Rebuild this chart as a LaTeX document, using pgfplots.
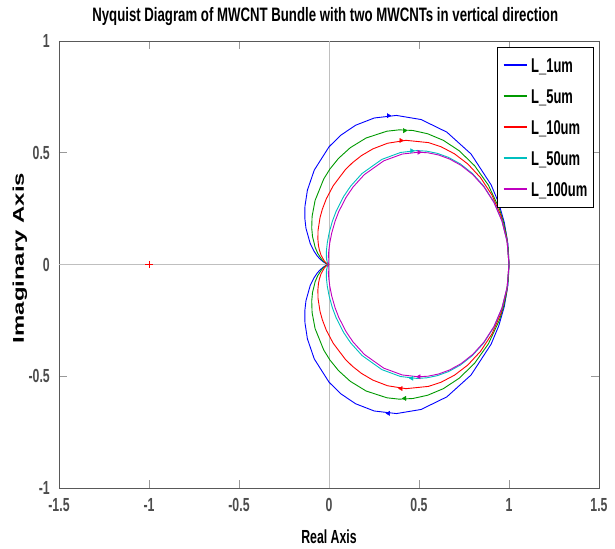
\documentclass[border=0pt]{standalone}
\usepackage{pgfplots}
\pgfplotsset{compat=1.18}
\usepackage{pgfplotstable}
\usepackage{graphicx}
\usepackage{fontspec}
\setmainfont{Liberation Sans}
\newcommand{\sq}[1]{\scalebox{0.65}[1]{#1}}
\definecolor{mblue}{rgb}{0,0,1}
\definecolor{mgreen}{rgb}{0,0.6,0}
\definecolor{mred}{rgb}{1,0,0}
\definecolor{mcyan}{rgb}{0,0.75,0.75}
\definecolor{mmag}{rgb}{0.75,0,0.75}

% columns: real part, imag (negative frequencies, upper), imag (positive frequencies, lower)
\pgfplotstableread{
x yp yn
1.0000 0.0000 -0.0000
0.9935 0.0946 -0.0946
0.9742 0.1870 -0.1870
0.9429 0.2749 -0.2749
0.9006 0.3565 -0.3565
0.7892 0.4944 -0.4944
0.6546 0.5923 -0.5923
0.5119 0.6485 -0.6485
0.3744 0.6670 -0.6670
0.2514 0.6555 -0.6555
0.1475 0.6230 -0.6230
0.0642 0.5777 -0.5777
0.0000 0.5263 -0.5263
-0.0816 0.4228 -0.4228
-0.1200 0.3326 -0.3326
-0.1336 0.2604 -0.2604
-0.1340 0.2046 -0.2046
-0.1280 0.1621 -0.1621
-0.1047 0.0948 -0.0948
-0.0829 0.0591 -0.0591
-0.0659 0.0389 -0.0389
-0.0530 0.0269 -0.0269
-0.0360 0.0143 -0.0143
-0.0258 0.0084 -0.0084
-0.0150 0.0036 -0.0036
-0.0097 0.0019 -0.0019
-0.0025 0.0002 -0.0002
0.0000 0.0000 -0.0000
}\tblue

\pgfplotstableread{
x yp yn
1.0000 0.0000 -0.0000
0.9965 0.0648 -0.0648
0.9862 0.1286 -0.1286
0.9694 0.1903 -0.1903
0.9466 0.2491 -0.2491
0.8855 0.3549 -0.3549
0.8090 0.4419 -0.4419
0.7237 0.5086 -0.5086
0.6353 0.5555 -0.5555
0.5483 0.5849 -0.5849
0.4659 0.5996 -0.5996
0.3898 0.6025 -0.6025
0.3211 0.5963 -0.5963
0.2061 0.5660 -0.5660
0.1183 0.5227 -0.5227
0.0530 0.4749 -0.4749
0.0051 0.4273 -0.4273
-0.0294 0.3824 -0.3824
-0.0772 0.2869 -0.2869
-0.0939 0.2155 -0.2155
-0.0960 0.1633 -0.1633
-0.0916 0.1254 -0.1254
-0.0769 0.0769 -0.0769
-0.0625 0.0497 -0.0497
-0.0414 0.0237 -0.0237
-0.0287 0.0129 -0.0129
-0.0138 0.0041 -0.0041
-0.0080 0.0018 -0.0018
-0.0021 0.0002 -0.0002
0.0000 0.0000 -0.0000
}\tgreen

\pgfplotstableread{
x yp yn
1.0000 0.0000 -0.0000
0.9886 0.1119 -0.1119
0.9559 0.2172 -0.2172
0.9053 0.3105 -0.3105
0.8419 0.3886 -0.3886
0.7707 0.4501 -0.4501
0.6966 0.4955 -0.4955
0.6232 0.5265 -0.5265
0.5530 0.5453 -0.5453
0.4278 0.5556 -0.5556
0.3252 0.5425 -0.5425
0.2437 0.5173 -0.5173
0.1796 0.4868 -0.4868
0.1294 0.4548 -0.4548
0.0899 0.4234 -0.4234
0.0234 0.3524 -0.3524
-0.0148 0.2942 -0.2942
-0.0370 0.2473 -0.2473
-0.0500 0.2093 -0.2093
-0.0608 0.1528 -0.1528
-0.0618 0.1139 -0.1139
-0.0587 0.0865 -0.0865
-0.0541 0.0668 -0.0668
-0.0442 0.0416 -0.0416
-0.0260 0.0156 -0.0156
-0.0164 0.0073 -0.0073
-0.0079 0.0023 -0.0023
-0.0030 0.0005 -0.0005
0.0000 0.0000 -0.0000
}\tred

\pgfplotstableread{
x yp yn
1.0000 0.0000 -0.0000
0.9899 0.1010 -0.1010
0.9608 0.1962 -0.1962
0.9158 0.2807 -0.2807
0.8593 0.3517 -0.3517
0.7959 0.4080 -0.4080
0.7299 0.4499 -0.4499
0.6644 0.4791 -0.4791
0.6018 0.4974 -0.4974
0.5434 0.5070 -0.5070
0.4898 0.5098 -0.5098
0.3978 0.5013 -0.5013
0.2936 0.4703 -0.4703
0.1837 0.4073 -0.4073
0.1204 0.3508 -0.3508
0.0817 0.3049 -0.3049
0.0397 0.2385 -0.2385
0.0190 0.1942 -0.1942
0.0004 0.1401 -0.1401
-0.0095 0.0971 -0.0971
-0.0142 0.0621 -0.0621
-0.0150 0.0439 -0.0439
-0.0139 0.0250 -0.0250
-0.0098 0.0102 -0.0102
-0.0040 0.0020 -0.0020
0.0000 0.0000 -0.0000
}\tcyan

\pgfplotstableread{
x yp yn
1.0000 0.0000 -0.0000
0.9900 0.0995 -0.0995
0.9613 0.1933 -0.1933
0.9170 0.2766 -0.2766
0.8614 0.3466 -0.3466
0.7990 0.4020 -0.4020
0.7340 0.4434 -0.4434
0.6695 0.4721 -0.4721
0.6078 0.4902 -0.4902
0.5503 0.4997 -0.4997
0.4975 0.5025 -0.5025
0.4069 0.4942 -0.4942
0.3042 0.4638 -0.4638
0.1960 0.4020 -0.4020
0.1336 0.3465 -0.3465
0.0955 0.3014 -0.3014
0.0541 0.2364 -0.2364
0.0336 0.1931 -0.1931
0.0151 0.1405 -0.1405
0.0049 0.0993 -0.0993
-0.0006 0.0663 -0.0663
-0.0025 0.0496 -0.0496
-0.0038 0.0327 -0.0327
-0.0043 0.0189 -0.0189
-0.0039 0.0080 -0.0080
-0.0025 0.0025 -0.0025
0.0000 0.0000 -0.0000
}\tmag

\begin{document}
\begin{tikzpicture}
\begin{axis}[
  scale only axis,
  width=540bp, height=447bp,
  xmin=-1.5, xmax=1.5, ymin=-1, ymax=1,
  xtick={-1.5,-1,-0.5,0,0.5,1,1.5},
  xticklabels={\sq{-1.5},\sq{-1},\sq{-0.5},\sq{0},\sq{0.5},\sq{1},\sq{1.5}},
  ytick={-1,-0.5,0,0.5,1},
  yticklabels={\sq{-1},\sq{-0.5},\sq{0},\sq{0.5},\sq{1}},
  tick align=inside, tickpos=both,
  major tick length=8bp,
  major tick style={black!40, line width=0.8bp},
  axis line style={black!65, line width=0.9bp},
  xticklabel style={font=\fontsize{19}{19}\selectfont\bfseries, text=black!70, inner sep=0pt, anchor=north, yshift=-10bp},
  yticklabel style={font=\fontsize{19}{19}\selectfont\bfseries, text=black!70, inner sep=0pt, anchor=east, xshift=-9bp},
  title={\scalebox{0.68}[1]{Nyquist Diagram of MWCNT Bundle with two MWCNTs in vertical direction}},
  title style={at={(axis description cs:0.493,1)}, anchor=base, yshift=14bp, inner sep=0pt, font=\fontsize{19.5}{20}\selectfont\bfseries},
  xlabel={\sq{Real Axis}},
  xlabel style={at={(axis description cs:0.5,0)}, anchor=base, yshift=-55bp, inner sep=0pt, font=\fontsize{19}{19}\selectfont\bfseries},
  ylabel={\scalebox{1}[0.65]{Imaginary Axis}},
  ylabel style={at={(axis description cs:-0.0722,0.5145)}, anchor=center, inner sep=0pt, font=\fontsize{24}{24}\selectfont\bfseries},
  legend cell align=left,
  legend image code/.code={\draw[#1, line width=1.1bp] (0bp,0bp) -- (23bp,0bp);},
  legend style={at={(axis description cs:0.989,0.987)}, anchor=north east,
    fill=white,
    font=\fontsize{20}{20}\selectfont\bfseries,
    nodes={inner sep=0pt, text height=14bp, text depth=0bp},
    row sep=17bp, column sep=4bp, inner xsep=5.5bp, inner ysep=11bp},
]
\addplot[forget plot, black!25, line width=1bp] coordinates {(-1.5,0) (1.5,0)};
\addplot[forget plot, black!25, line width=1bp] coordinates {(0,-1) (0,1)};

\addplot[color=mblue, line width=0.9bp] table[x=x, y=yn] {\tblue};
\addplot[color=mblue, line width=0.9bp, forget plot] table[x=x, y=yp] {\tblue};
\addplot[color=mgreen, line width=0.9bp] table[x=x, y=yn] {\tgreen};
\addplot[color=mgreen, line width=0.9bp, forget plot] table[x=x, y=yp] {\tgreen};
\addplot[color=mred, line width=0.9bp] table[x=x, y=yn] {\tred};
\addplot[color=mred, line width=0.9bp, forget plot] table[x=x, y=yp] {\tred};
\addplot[color=mcyan, line width=0.9bp] table[x=x, y=yn] {\tcyan};
\addplot[color=mcyan, line width=0.9bp, forget plot] table[x=x, y=yp] {\tcyan};
\addplot[color=mmag, line width=0.9bp] table[x=x, y=yn] {\tmag};
\addplot[color=mmag, line width=0.9bp, forget plot] table[x=x, y=yp] {\tmag};

% direction arrows
\addplot[forget plot, only marks, mblue, mark=triangle*, mark size=2.4bp, mark options={rotate=-90}] coordinates {(0.33,0.666)};
\addplot[forget plot, only marks, mblue, mark=triangle*, mark size=2.4bp, mark options={rotate=90}] coordinates {(0.33,-0.666)};
\addplot[forget plot, only marks, mgreen, mark=triangle*, mark size=2.4bp, mark options={rotate=-90}] coordinates {(0.42,0.599)};
\addplot[forget plot, only marks, mgreen, mark=triangle*, mark size=2.4bp, mark options={rotate=90}] coordinates {(0.42,-0.599)};
\addplot[forget plot, only marks, mred, mark=triangle*, mark size=2.4bp, mark options={rotate=-90}] coordinates {(0.40,0.555)};
\addplot[forget plot, only marks, mred, mark=triangle*, mark size=2.4bp, mark options={rotate=90}] coordinates {(0.40,-0.555)};
\addplot[forget plot, only marks, mcyan, mark=triangle*, mark size=2.4bp, mark options={rotate=-90}] coordinates {(0.46,0.509)};
\addplot[forget plot, only marks, mcyan, mark=triangle*, mark size=2.4bp, mark options={rotate=90}] coordinates {(0.46,-0.509)};
\addplot[forget plot, only marks, mmag, mark=triangle*, mark size=2.4bp, mark options={rotate=-90}] coordinates {(0.50,0.502)};
\addplot[forget plot, only marks, mmag, mark=triangle*, mark size=2.4bp, mark options={rotate=90}] coordinates {(0.50,-0.502)};

% critical point
\addplot[forget plot, only marks, red, mark=+, mark size=3.5bp, mark options={line width=0.9bp}] coordinates {(-1,0)};

\legend{\sq{L\_1um},\sq{L\_5um},\sq{L\_10um},\sq{L\_50um},\sq{L\_100um}}
\end{axis}
\pgfresetboundingbox
\path ([xshift=-59bp,yshift=-61bp]current axis.south west) rectangle ([xshift=16bp,yshift=41bp]current axis.north east);
\end{tikzpicture}
\end{document}
